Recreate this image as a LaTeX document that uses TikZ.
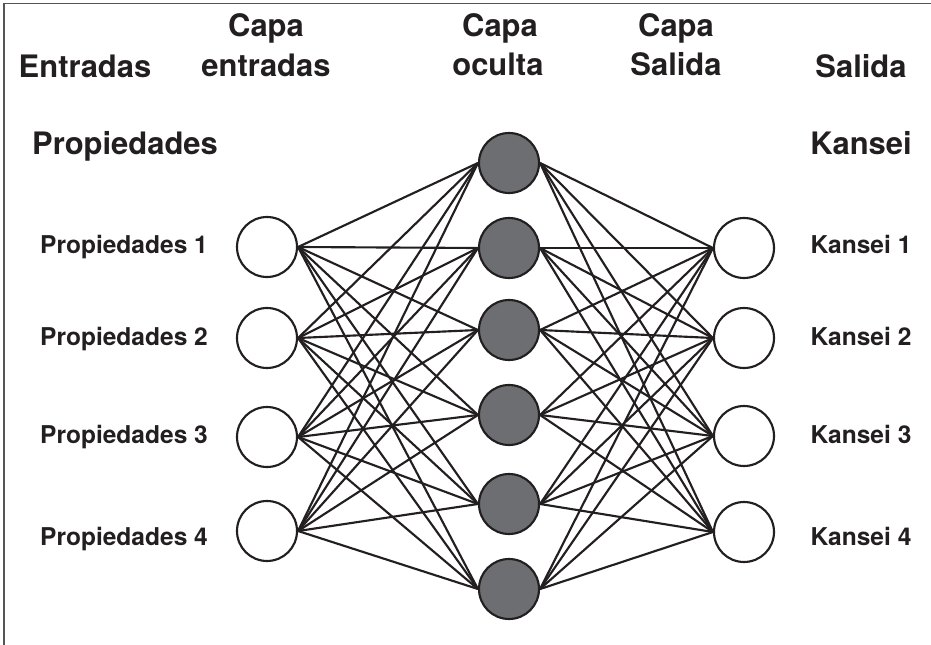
\documentclass[tikz,border=0pt]{standalone}
\usepackage{fontspec}
\setmainfont{TeX Gyre Heros}
\definecolor{ink}{HTML}{231F20}
\definecolor{hidfill}{HTML}{6D6E71}
\definecolor{framec}{HTML}{555555}
\begin{document}
\begin{tikzpicture}[x=0.75pt,y=-0.75pt,
  unit/.style={circle,draw=ink,line width=1.6pt,minimum size=45pt,inner sep=0pt},
  inunit/.style={unit,fill=white},
  hidunit/.style={unit,fill=hidfill},
  outunit/.style={unit,fill=white},
  conn/.style={draw=ink,line width=1.6pt},
  title/.style={anchor=base,text=ink,inner sep=0pt,font=\bfseries\fontsize{23.2}{27}\selectfont},
  lab/.style={anchor=base,text=ink,inner sep=0pt,font=\bfseries\fontsize{18.4}{22}\selectfont},
  framel/.style={draw=framec,line width=0.8pt}]
\useasboundingbox (0,0) rectangle (931,645);
\draw[framel] (4,645) -- (4,3.5) -- (931,3.5);

% headers
\node[title] (tEnt) at (85,78) {Entradas};
\node[title] (tCe1) at (266,37) {Capa};
\node[title] (tCe2) at (266,77) {entradas};
\node[title] (tCo1) at (500,37) {Capa};
\node[title] (tCo2) at (498,76) {oculta};
\node[title] (tCs1) at (676,37) {Capa};
\node[title] (tCs2) at (676,76) {Salida};
\node[title] (tSal) at (861,78) {Salida};
\node[title] (tProp) at (125,155) {Propiedades};
\node[title] (tKan) at (861,155) {Kansei};

% units
\node[inunit] (i1) at (267,247) {};
\node[inunit] (i2) at (267,338) {};
\node[inunit] (i3) at (267,437) {};
\node[inunit] (i4) at (267,531) {};
\node[hidunit] (h1) at (509,163) {};
\node[hidunit] (h2) at (509,248) {};
\node[hidunit] (h3) at (509,330) {};
\node[hidunit] (h4) at (509,415) {};
\node[hidunit] (h5) at (509,504) {};
\node[hidunit] (h6) at (509,589) {};
\node[outunit] (o1) at (744,248) {};
\node[outunit] (o2) at (744,338) {};
\node[outunit] (o3) at (744,436) {};
\node[outunit] (o4) at (744,532) {};

% labels
\node[lab] (lp1) at (124,253) {Propiedades 1};
\node[lab] (lp2) at (124,345) {Propiedades 2};
\node[lab] (lp3) at (124,443) {Propiedades 3};
\node[lab] (lp4) at (124,545) {Propiedades 4};
\node[lab] (lk1) at (861,253) {Kansei 1};
\node[lab] (lk2) at (861,345) {Kansei 2};
\node[lab] (lk3) at (861,443) {Kansei 3};
\node[lab] (lk4) at (861,545) {Kansei 4};

% connectors
\foreach \a in {1,2,3,4}{
  \foreach \b in {1,2,3,4,5,6}{
    \draw[conn] (i\a.east) -- (h\b.west);
    \draw[conn] (h\b.east) -- (o\a.west);
  }
}
\end{tikzpicture}
\end{document}
